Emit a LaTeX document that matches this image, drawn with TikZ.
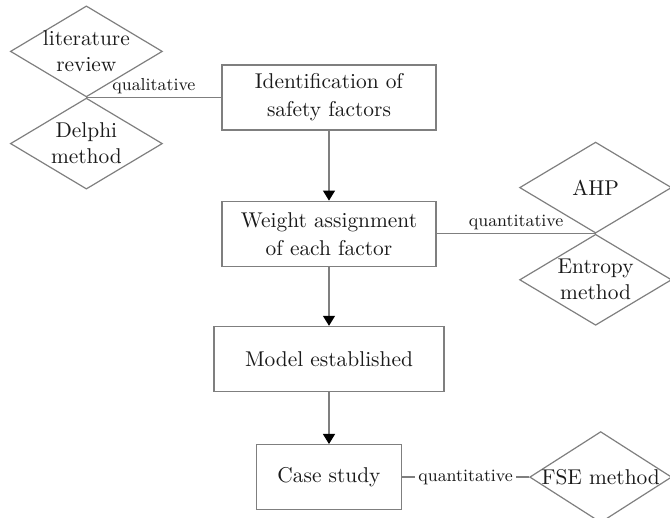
\documentclass[tikz,border=0pt]{standalone}
\usetikzlibrary{arrows.meta, positioning, shapes.geometric}
\definecolor{flowline}{HTML}{7F7F7F}
\definecolor{flowtext}{HTML}{1A1A1A}

\begin{document}
\begin{tikzpicture}[
        x=0.5pt, y=-0.5pt,
        stepbox/.style={
            draw=flowline,
            line width=0.6pt,
            minimum width=107pt,
            minimum height=32.5pt,
            align=center,
            text=flowtext,
            font=\fontsize{10.7}{14}\selectfont
        },
        method/.style={
            diamond,
            draw=flowline,
            line width=0.6pt,
            minimum width=76pt,
            minimum height=45.5pt,
            inner sep=0pt
        },
        methodtext/.style={align=center, text=flowtext, font=\fontsize{10.7}{13}\selectfont},
        linklabel/.style={text=flowtext, font=\fontsize{8.7}{10}\selectfont, inner sep=1.5pt},
        flow/.style={-{Triangle[length=5pt, width=6pt, color=black]}, line width=0.6pt, flowline},
        link/.style={line width=0.6pt, flowline}
    ]
        \useasboundingbox (0,0) rectangle (670,518);

        \node[stepbox] (ident) at (329,97.5) {Identification of\\safety factors};
        \node[stepbox, below=35pt of ident] (weight) {Weight assignment\\of each factor};
        \node[stepbox, below=29.5pt of weight, minimum width=115pt] (model) {Model established};
        \node[stepbox, below=26pt of model, minimum width=72.5pt] (casestudy) {Case study};

        % meeting points of the diamond pairs
        \path (ident.west) ++(-135,0) coordinate (litjoin);
        \path (weight.east) ++(159,0) coordinate (ahpjoin);

        \node[method, anchor=south, label={[methodtext]center:literature\\review}] (litreview) at (litjoin) {};
        \node[method, below=0pt of litreview, label={[methodtext]center:Delphi\\method}] (delphi) {};
        \node[method, anchor=south, label={[methodtext]center:AHP}] (ahp) at (ahpjoin) {};
        \node[method, below=0pt of ahp, label={[methodtext]center:Entropy\\method}] (entropy) {};
        \node[method, right=63.5pt of casestudy, minimum width=71pt, label={[methodtext]center:FSE method}] (fse) {};

        \draw[flow] (ident.south) -- (weight.north);
        \draw[flow] (weight.south) -- (model.north);
        \draw[flow] (model.south) -- (casestudy.north);

        \draw[link] (litreview.south) -- node[linklabel, above] {qualitative} (ident.west);
        \draw[link] (weight.east) -- node[linklabel, above] {quantitative} (ahp.south);
        \draw[link] (casestudy.east) -- node[linklabel, fill=white] {quantitative} (fse.west);
    \end{tikzpicture}
\end{document}
